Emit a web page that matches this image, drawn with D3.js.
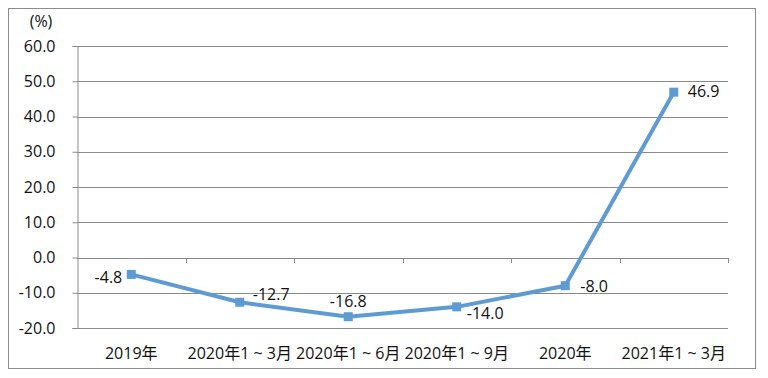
<!DOCTYPE html>
<html>
<head>
<meta charset="utf-8">
<script src="https://cdn.jsdelivr.net/npm/d3@7"></script>
<style>
  body { margin: 0; background: #fff; }
  svg text { font-family: "Open Sans", "Noto Sans CJK SC", sans-serif; fill: #111; }
</style>
</head>
<body>
<svg id="chart" width="768" height="378"></svg>
<script>
// Chart data
const categories = ["2019年", "2020年1 ~ 3月", "2020年1 ~ 6月", "2020年1 ~ 9月", "2020年", "2021年1 ~ 3月"];
const growth = [-4.8, -12.7, -16.8, -14.0, -8.0, 46.9];
const yTicks = [-20, -10, 0, 10, 20, 30, 40, 50, 60];
const yUnit = "(%)";

// label placement per point: dx, dy, anchor
const labelPos = [
  { dx: -9, dy: 9, anchor: "end" },
  { dx: 13, dy: -2, anchor: "start" },
  { dx: 0, dy: -10, anchor: "middle" },
  { dx: 10, dy: 12, anchor: "start" },
  { dx: 15, dy: 6, anchor: "start" },
  { dx: 14, dy: 5, anchor: "start" }
];

const svg = d3.select("#chart");
const margin = { top: 46, right: 40, bottom: 50, left: 77 };
const width = 728 - margin.left;
const height = 328 - margin.top;
const fontSize = 16;

// Outer frame
svg.append("rect")
  .attr("x", 8.5).attr("y", 8.5)
  .attr("width", 747).attr("height", 360)
  .attr("fill", "none")
  .attr("stroke", "#8c8c8c")
  .attr("stroke-width", 1);

const chart = svg.append("g")
  .attr("transform", `translate(${margin.left},${margin.top})`);

const xScale = d3.scaleBand()
  .domain(categories)
  .range([0, width]);

const yScale = d3.scaleLinear()
  .domain([-20, 60])
  .range([height, 0]);

// Gridlines
chart.selectAll("line.grid")
  .data(yTicks)
  .join("line")
    .attr("class", "grid")
    .attr("x1", 0)
    .attr("x2", width)
    .attr("y1", d => Math.round(yScale(d)) + 0.5)
    .attr("y2", d => Math.round(yScale(d)) + 0.5)
    .attr("stroke", "#8a8a8a")
    .attr("stroke-width", 1);

// Y axis
const yAxis = d3.axisLeft(yScale)
  .tickValues(yTicks)
  .tickSize(5)
  .tickPadding(17)
  .tickFormat(d3.format(".1f"));

const yAxisG = chart.append("g")
  .attr("transform", "translate(0.5,0)")
  .call(yAxis);
yAxisG.select(".domain").attr("stroke", "#8a8a8a");
yAxisG.selectAll(".tick line").attr("stroke", "#8a8a8a");
yAxisG.selectAll(".tick text")
  .attr("font-size", fontSize)
  .attr("font-family", "\"Open Sans\", sans-serif")
  .attr("fill", "#111")
  .text(d => d3.format(".1f")(d).replace("−", "-"));

// Category axis sitting on the zero line, ticks at band boundaries
const boundaries = categories.map(c => xScale(c)).concat([width]).slice(1);
chart.selectAll("line.xtick")
  .data(boundaries)
  .join("line")
    .attr("class", "xtick")
    .attr("x1", d => Math.round(d) + 0.5)
    .attr("x2", d => Math.round(d) + 0.5)
    .attr("y1", Math.round(yScale(0)))
    .attr("y2", Math.round(yScale(0)) + 5)
    .attr("stroke", "#8a8a8a");

chart.selectAll("text.xlabel")
  .data(categories)
  .join("text")
    .attr("class", "xlabel")
    .attr("x", d => xScale(d) + xScale.bandwidth() / 2)
    .attr("y", height + 31)
    .attr("text-anchor", "middle")
    .attr("font-size", fontSize)
    .text(d => d);

// Unit label
svg.append("text")
  .attr("x", 41)
  .attr("y", 27)
  .attr("text-anchor", "middle")
  .attr("font-size", fontSize)
  .text(yUnit);

// Line
const line = d3.line()
  .x((d, i) => xScale(categories[i]) + xScale.bandwidth() / 2)
  .y(d => yScale(d));

chart.append("path")
  .datum(growth)
  .attr("fill", "none")
  .attr("stroke", "#5f9bd3")
  .attr("stroke-width", 4)
  .attr("stroke-linejoin", "round")
  .attr("d", line);

// Markers
const ms = 9;
chart.selectAll("rect.marker")
  .data(growth)
  .join("rect")
    .attr("class", "marker")
    .attr("x", (d, i) => xScale(categories[i]) + xScale.bandwidth() / 2 - ms / 2)
    .attr("y", d => yScale(d) - ms / 2)
    .attr("width", ms)
    .attr("height", ms)
    .attr("fill", "#5f9bd3");

// Data labels
chart.selectAll("text.value")
  .data(growth)
  .join("text")
    .attr("class", "value")
    .attr("x", (d, i) => xScale(categories[i]) + xScale.bandwidth() / 2 + labelPos[i].dx)
    .attr("y", (d, i) => yScale(d) + labelPos[i].dy)
    .attr("text-anchor", (d, i) => labelPos[i].anchor)
    .attr("font-size", fontSize)
    .text(d => d3.format(".1f")(d).replace("−", "-"));
</script>
</body>
</html>
